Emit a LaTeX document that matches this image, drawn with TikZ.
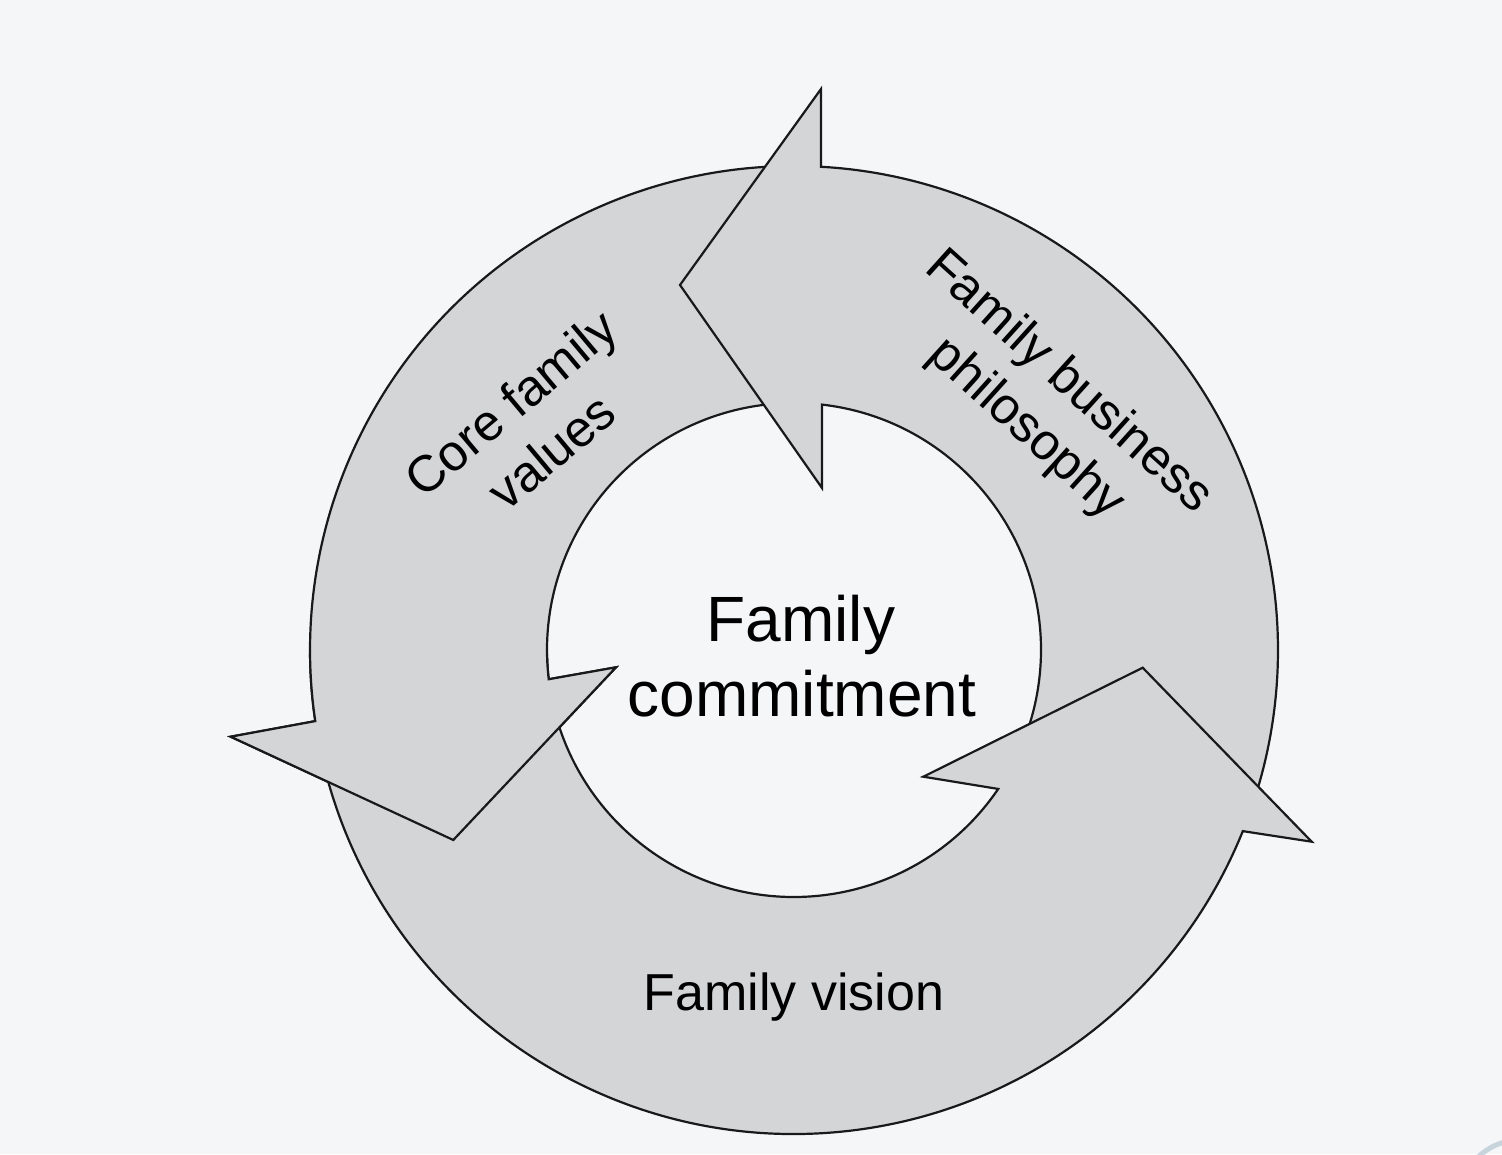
\documentclass[tikz,border=0pt]{standalone}
\usepackage{fontspec}
\setmainfont{Liberation Sans}
\definecolor{bgc}{RGB}{245,246,248}
\definecolor{ringc}{RGB}{212,213,215}
\definecolor{edgec}{RGB}{25,25,25}
\definecolor{markc}{RGB}{200,212,220}
\begin{document}
\begin{tikzpicture}[x=1pt,y=1pt,
  arrowshape/.style={fill=ringc,draw=edgec,line width=2.2pt,line join=miter},
  lbl/.style={text=black,inner sep=0pt,align=center},
  % philosophy arrow (right side, head at top)
  pathA/.style={insert path={(-21.98:484) arc[start angle=-21.98,end angle=86.80,radius=484]
     -- (27,561) -- (-114,365) -- (28,162) -- (83.49:247)
     arc[start angle=83.49,end angle=-34.23,radius=247] -- cycle}},
  % values arrow (left side, head at lower left)
  pathB/.style={insert path={(86.80:484) arc[start angle=86.80,end angle=188.45,radius=484]
     -- (-563.3,-86.7) -- (-340.7,-190) -- (-178,-17.3) -- (186.80:247)
     arc[start angle=186.80,end angle=83.49,radius=247] -- cycle}},
  % vision arrow (bottom, head at lower right)
  pathC/.style={insert path={(188.45:484) arc[start angle=188.45,end angle=338.02,radius=484]
     -- (517.7,-191.7) -- (348.7,-17.7) -- (129.3,-126.7) -- (325.77:247)
     arc[start angle=325.77,end angle=186.80,radius=247] -- cycle}}]
\fill[bgc] (-794,-504) rectangle (708,650);
\useasboundingbox (-794,-504) rectangle (708,650);
\draw[markc,line width=5pt] (726,-550) circle[radius=60];
% arrows
\path[arrowshape,pathB];
\path[arrowshape,pathA];
\path[arrowshape,pathC];
\begin{scope}
  \clip (-580,-205) rectangle (-160,-4);
  \path[arrowshape,pathB];
\end{scope}
% labels
\node[lbl,font=\fontsize{64}{75}\selectfont,anchor=base] (fam) at (7,8.3) {Family};
\node[lbl,font=\fontsize{64}{75}\selectfont,anchor=base] (com) at (8,-66.7) {commitment};
\node[lbl,font=\fontsize{52}{62}\selectfont,anchor=base] (vis) at (0,-360) {Family vision};
\node[lbl,font=\fontsize{51}{63}\selectfont,rotate=40] (core) at (-263,223) {Core family\\values};
\node[lbl,font=\fontsize{51}{63}\selectfont,rotate=-42] (fbp) at (253,244) {Family business\\philosophy};
\end{tikzpicture}
\end{document}
